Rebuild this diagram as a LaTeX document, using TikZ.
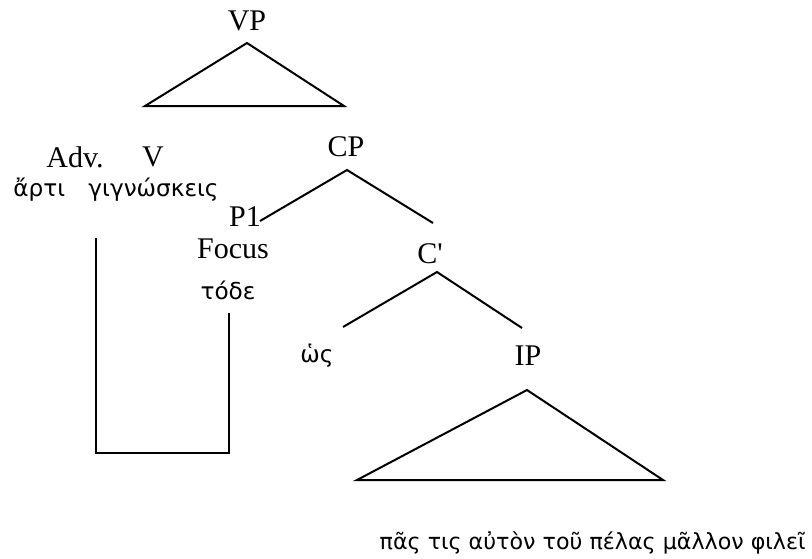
\documentclass[tikz,border=0pt]{standalone}
\usepackage{fontspec}
\setmainfont{Liberation Serif}
\newfontfamily\greekfont{DejaVu Sans}
\usetikzlibrary{positioning}

\begin{document}
\begin{tikzpicture}[x=0.5pt,y=-0.5pt,
  lab/.style={inner sep=1pt,font=\fontsize{15}{17}\selectfont},
  grk/.style={inner sep=1pt,font=\greekfont\fontsize{11.6}{14}\selectfont},
  branch/.style={line width=1pt}]
\useasboundingbox (0,0) rectangle (812,558);
% VP and its triangle
\node[lab] (vp) at (247,21) {VP};
\coordinate (vptop) at (247,43);
\coordinate (vpl) at (145,106);
\coordinate (vpr) at (344,106);
\draw[branch] (vpl) -- (vptop) -- (vpr) -- cycle;
% verb complex
\node[lab] (adv) at (75,157) {Adv.};
\node[lab] (v) at (153,157) {V};
\node[grk] (arti) at (116,190) {ἄρτι\quad γιγνώσκεις};
% CP
\node[lab] (cp) at (346,147) {CP};
\node[lab] (p1) at (245,217) {P1};
\node[lab] (focus) at (233,249) {Focus};
\node[grk] (tode) at (228,290) {τόδε};
\node[lab] (cbar) at (430,254) {C\textquotesingle};
\node[grk] (hos) at (317,356) {ὡς};
\node[lab] (ip) at (528,356) {IP};
\coordinate (cpb) at (347,170);
\coordinate (cbartop) at (433,223);
\coordinate (p1r) at (260,221);
\draw[branch] (p1r) -- (cpb) -- (cbartop);
\coordinate (cbarb) at (437,272);
\coordinate (hostop) at (343,327);
\coordinate (iptop) at (522,328);
\draw[branch] (hostop) -- (cbarb) -- (iptop);
% IP triangle
\coordinate (iptri) at (527,390);
\coordinate (ipl) at (357,480);
\coordinate (ipr) at (663,480);
\draw[branch] (ipl) -- (iptri) -- (ipr) -- cycle;
\node[grk,font=\greekfont\fontsize{11.1}{14}\selectfont,anchor=east] (sent) at (808,543) {πᾶς τις αὐτὸν τοῦ πέλας μᾶλλον φιλεῖ};
% movement line
\coordinate (m1) at (96,238);
\coordinate (m2) at (96,453);
\coordinate (m3) at (229,453);
\coordinate (m4) at (229,313);
\draw[branch] (m1) -- (m2) -- (m3) -- (m4);
\end{tikzpicture}
\end{document}
